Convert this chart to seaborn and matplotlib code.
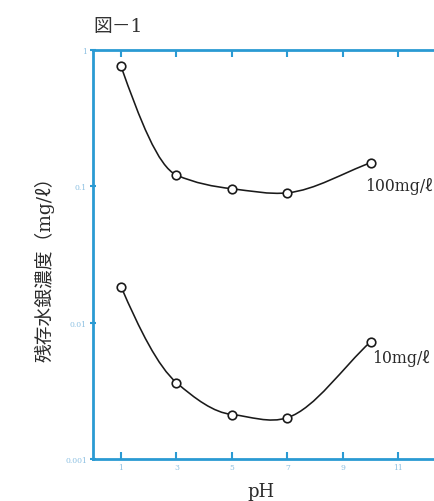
import numpy as np
import pandas as pd
import matplotlib
matplotlib.use("Agg")
import matplotlib.pyplot as plt
import seaborn as sns
from matplotlib.path import Path
from matplotlib.patches import PathPatch

# ---- data ----
ph = [1, 3, 5, 7, 10]
conc_100 = [0.76, 0.121, 0.096, 0.0896, 0.149]
conc_10 = [0.0184, 0.00363, 0.00212, 0.00201, 0.00726]
series_labels = ["100mg/ℓ", "10mg/ℓ"]
x_ticks = [1, 3, 5, 7, 9, 11]
y_ticks = [1, 0.1, 0.01, 0.001]
y_tick_labels = ["1", "0.1", "0.01", "0.001"]

sns.set_theme(style="white")
plt.rcParams["font.family"] = ["DejaVu Serif", "Noto Sans CJK JP"]

AX_C = "#2a9ad3"
TL_C = "#8cc0e2"
TXT = "#2a2a2a"

W, H = 435, 502
fig = plt.figure(figsize=(W / 100, H / 100), dpi=100)
left_px, unit = 93.25, 27.75
xmax = 13
ax = fig.add_axes([left_px / W, (H - 460) / H, xmax * unit / W, 409 / H])

df = pd.DataFrame({
    "pH": ph * 2,
    "conc": conc_100 + conc_10,
    "series": [series_labels[0]] * len(ph) + [series_labels[1]] * len(ph),
})


def smooth_path(xs, ys):
    """Smooth hand-drawn-like curve through the points, as Bezier segments in log space."""
    xs = np.asarray(xs, float)
    ly = np.log10(np.asarray(ys, float))
    n = len(xs)
    h = np.diff(xs)
    d = np.diff(ly) / h
    m = np.zeros(n)
    for i in range(1, n - 1):
        if d[i - 1] * d[i] > 0:
            w1 = 2 * h[i] + h[i - 1]
            w2 = h[i] + 2 * h[i - 1]
            m[i] = (w1 + w2) / (w1 / d[i - 1] + w2 / d[i])
        else:
            m[i] = (d[i - 1] * h[i] + d[i] * h[i - 1]) / (h[i] + h[i - 1])
    m[0] = ((2 * h[0] + h[1]) * d[0] - h[0] * d[1]) / (h[0] + h[1])
    m[-1] = d[-1]
    verts = [(xs[0], 10 ** ly[0])]
    codes = [Path.MOVETO]
    for i in range(n - 1):
        hh = h[i]
        c1 = (xs[i] + hh / 3, 10 ** (ly[i] + m[i] * hh / 3))
        c2 = (xs[i + 1] - hh / 3, 10 ** (ly[i + 1] - m[i + 1] * hh / 3))
        verts += [c1, c2, (xs[i + 1], 10 ** ly[i + 1])]
        codes += [Path.CURVE4] * 3
    return Path(verts, codes)


ax.set_yscale("log")
for vals in (conc_100, conc_10):
    ax.add_patch(PathPatch(smooth_path(ph, vals), facecolor="none",
                           edgecolor="#1a1a1a", lw=1.15, zorder=2))

sns.scatterplot(data=df, x="pH", y="conc", ax=ax, marker="o", s=38,
                facecolor="white", edgecolor="#1a1a1a", linewidth=1.2,
                zorder=3, legend=False)

ax.set_xlim(0, xmax)
ax.set_ylim(0.001, 1)
ax.set_xticks(x_ticks)
ax.set_xticklabels([str(t) for t in x_ticks])
ax.set_yticks(y_ticks)
ax.set_yticklabels(y_tick_labels)
ax.yaxis.set_minor_locator(matplotlib.ticker.NullLocator())

for s in ax.spines.values():
    s.set_color(AX_C)
    s.set_linewidth(2.0)
    s.set_visible(True)

ax.tick_params(axis="x", which="major", direction="in", length=5, width=1.5,
               color=AX_C, top=True, bottom=True, labelsize=5.5,
               labelcolor=TL_C, pad=3)
ax.tick_params(axis="y", which="major", direction="inout", length=5, width=1.5,
               color=AX_C, left=True, labelsize=5.5, labelcolor=TL_C, pad=2)

ax_w_px = xmax * unit
ax.set_xlabel("pH", fontsize=13, color=TXT)
ax.xaxis.set_label_coords((261 - left_px) / ax_w_px, -(492 - 460) / 409,
                          transform=ax.transAxes)
ax.xaxis.label.set_va("center")
ax.set_ylabel("残存水銀濃度（mg/ℓ）", fontsize=13.5, color=TXT)
ax.yaxis.set_label_coords(-(left_px - 45) / ax_w_px, (460 - 265) / 409,
                          transform=ax.transAxes)
ax.yaxis.label.set_va("center")

ax.text(9.8, 0.101, series_labels[0], fontsize=11.3, color=TXT,
        ha="left", va="center")
ax.text(10.05, 0.00555, series_labels[1], fontsize=11.3, color=TXT,
        ha="left", va="center")

fig.text(93 / W, 1 - 27 / H, "図－1", fontsize=13.5, color="#333333",
         ha="left", va="center")

fig.savefig("out.png", dpi=100)
